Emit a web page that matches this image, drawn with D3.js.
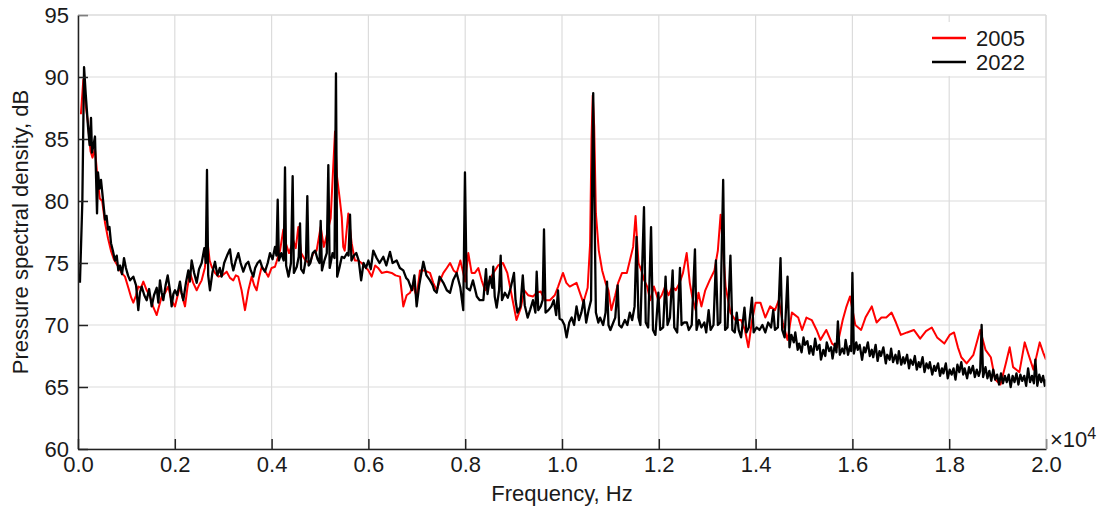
<!DOCTYPE html>
<html>
<head>
<meta charset="utf-8">
<script src="https://cdn.jsdelivr.net/npm/d3@7"></script>
<style>
  body { margin: 0; background: #fff; }
  text { font-family: Arial, "Liberation Sans", Helvetica, sans-serif; fill: #1a1a1a; }
</style>
</head>
<body>
<div id="chart"></div>
<script>
// --- Datos (frecuencia en Hz, PSD en dB) ---
const xTicks = [0, 2000, 4000, 6000, 8000, 10000, 12000, 14000, 16000, 18000, 20000];
const yTicks = [60, 65, 70, 75, 80, 85, 90, 95];
const seriesNames = ["2005", "2022"];
const seriesColors = ["#ff0000", "#000000"];

const psd2005 = [
  [60,87.0],[110,89.8],[150,88.0],[200,86.5],[260,84.0],[300,83.5],[350,84.2],[400,82.0],[450,80.2],[500,80.0],
  [560,78.2],[620,77.0],[680,76.0],[740,75.3],[800,74.9],[833,74.7],[900,74.2],[971,73.9],[1040,73.0],[1100,72.2],
  [1143,71.8],[1200,72.4],[1246,73.1],[1300,73.0],[1350,73.5],[1420,72.8],[1488,72.3],[1550,71.5],[1626,70.8],[1680,71.6],
  [1729,72.3],[1800,72.6],[1866,73.1],[1930,72.0],[2004,71.5],[2060,72.4],[2107,73.1],[2160,72.2],[2211,71.5],[2260,73.0],
  [2314,74.2],[2380,73.4],[2452,72.8],[2500,73.2],[2555,73.6],[2620,74.6],[2679,76.6],[2720,75.2],[2762,74.7],[2830,74.2],
  [2900,73.9],[2980,74.0],[3072,74.3],[3140,73.8],[3209,73.6],[3260,74.0],[3312,73.9],[3380,72.8],[3450,71.2],[3520,72.8],
  [3588,73.9],[3640,73.2],[3691,72.8],[3740,73.8],[3795,74.7],[3860,74.4],[3932,73.9],[4000,74.6],[4070,74.7],[4174,76.0],
  [4243,77.7],[4300,76.5],[4360,75.8],[4449,76.8],[4500,76.2],[4552,77.9],[4610,75.8],[4700,75.2],[4793,75.0],[4860,75.8],
  [4930,76.0],[5014,77.9],[5080,76.3],[5150,77.4],[5220,78.6],[5270,82.5],[5310,85.6],[5350,82.0],[5413,80.0],[5450,78.7],
  [5480,76.3],[5510,76.0],[5585,79.0],[5654,76.6],[5720,75.2],[5790,75.2],[5860,75.0],[5930,74.7],[6000,74.4],[6067,73.9],
  [6140,74.8],[6200,74.6],[6274,74.2],[6380,74.3],[6481,74.2],[6560,74.0],[6653,73.9],[6721,71.5],[6790,72.4],[6859,72.6],
  [6920,73.2],[6997,72.3],[7066,74.4],[7150,74.4],[7273,74.2],[7340,73.4],[7411,72.8],[7480,73.6],[7549,74.2],[7620,74.6],
  [7687,75.0],[7760,74.4],[7824,74.2],[7900,75.2],[7960,74.2],[8000,73.5],[8064,75.8],[8133,74.2],[8200,74.2],[8271,74.6],
  [8340,73.6],[8409,72.8],[8500,73.6],[8581,74.2],[8680,74.8],[8780,75.0],[8870,74.2],[8950,72.6],[9060,70.4],[9150,71.4],
  [9220,72.8],[9300,72.4],[9400,72.3],[9480,72.6],[9560,72.7],[9650,72.0],[9750,72.0],[9850,72.4],[9920,73.1],[10020,74.2],
  [10090,73.4],[10160,73.1],[10300,73.4],[10440,71.8],[10530,73.0],[10580,76.5],[10610,85.0],[10635,88.5],[10665,86.0],[10700,79.0],
  [10760,76.0],[10830,74.4],[10900,73.4],[10960,72.8],[11020,71.2],[11100,72.4],[11160,73.4],[11240,74.2],[11340,74.2],[11470,76.3],
  [11520,78.8],[11580,75.0],[11640,74.4],[11700,73.6],[11760,73.1],[11820,72.0],[11900,73.1],[11990,72.0],[12060,72.4],[12130,73.1],
  [12200,72.4],[12280,73.1],[12350,72.8],[12430,73.4],[12500,74.2],[12576,75.8],[12640,73.4],[12690,72.3],[12760,71.2],[12820,72.6],
  [12880,71.5],[12960,72.8],[13050,73.6],[13150,74.4],[13220,76.0],[13277,78.9],[13330,76.0],[13380,73.1],[13480,71.0],[13580,70.4],
  [13700,70.4],[13780,69.6],[13850,68.2],[13920,70.2],[14000,71.8],[14100,71.8],[14200,70.6],[14300,71.5],[14400,71.2],[14480,72.0],
  [14560,70.2],[14660,68.8],[14750,71.0],[14880,70.6],[14960,69.6],[15050,70.6],[15160,70.4],[15260,69.6],[15340,68.8],[15460,69.6],
  [15580,68.5],[15680,68.2],[15800,70.4],[15870,71.4],[15950,72.3],[16060,70.0],[16180,69.6],[16270,70.6],[16400,71.5],[16500,70.2],
  [16600,70.6],[16700,70.6],[16810,71.0],[16900,70.2],[17000,69.2],[17130,69.4],[17270,69.6],[17400,68.9],[17520,69.5],[17640,69.8],
  [17750,69.0],[17900,68.5],[18010,69.2],[18100,69.4],[18180,68.2],[18250,67.4],[18360,66.9],[18500,67.6],[18640,69.6],[18750,68.0],
  [18860,67.4],[18950,65.6],[19060,65.2],[19170,66.9],[19250,68.2],[19320,66.6],[19450,66.2],[19560,68.6],[19640,67.6],[19740,66.4],
  [19870,68.6],[19940,67.8],[20000,67.2]
];

const psd2022 = [
  [40,73.4],[90,80.0],[125,90.8],[160,88.6],[207,86.0],[240,84.5],[269,86.7],[289,83.9],[320,84.5],[351,85.2],
  [393,79.0],[413,82.3],[445,81.0],[475,81.7],[517,80.1],[558,78.5],[590,78.8],[620,77.7],[650,77.9],[682,76.6],
  [720,76.0],[764,75.2],[800,75.6],[833,74.4],[870,74.8],[910,74.1],[950,75.4],[990,74.6],[1033,74.0],[1075,73.6],
  [1143,73.9],[1200,73.2],[1246,71.2],[1280,72.6],[1316,73.1],[1370,72.4],[1419,72.0],[1470,72.9],[1522,71.5],[1570,72.4],
  [1626,73.0],[1660,71.8],[1694,73.6],[1730,72.6],[1763,72.0],[1810,73.2],[1853,74.0],[1900,72.8],[1935,71.5],[1970,72.5],
  [2004,72.8],[2050,72.4],[2107,73.5],[2140,72.6],[2176,72.0],[2230,73.4],[2279,74.4],[2310,73.5],[2348,75.2],[2400,74.2],
  [2452,73.4],[2500,74.5],[2555,75.0],[2610,76.2],[2640,75.0],[2665,82.5],[2690,74.0],[2727,72.8],[2780,74.3],[2830,75.1],
  [2880,74.0],[2930,74.6],[2968,73.9],[3020,75.0],[3080,75.6],[3140,76.1],[3175,75.0],[3209,74.4],[3260,75.2],[3312,75.8],
  [3360,75.0],[3415,74.3],[3470,74.9],[3519,75.1],[3570,74.4],[3622,73.9],[3660,74.6],[3710,75.0],[3760,75.2],[3810,74.6],
  [3863,74.3],[3920,75.0],[3967,75.8],[4020,75.3],[4070,76.3],[4100,75.6],[4126,80.1],[4150,75.2],[4200,75.8],[4250,75.2],
  [4277,82.7],[4300,74.8],[4350,73.9],[4400,75.0],[4435,82.0],[4460,74.2],[4520,74.7],[4560,75.5],[4587,78.2],[4610,74.5],
  [4660,74.2],[4710,75.4],[4738,80.4],[4765,74.8],[4800,75.0],[4850,75.8],[4900,76.0],[4950,75.3],[4990,75.0],[5014,78.4],
  [5040,74.4],[5090,75.2],[5140,75.8],[5172,82.9],[5200,74.6],[5260,75.8],[5300,75.4],[5330,90.3],[5355,73.9],[5400,74.6],
  [5450,75.5],[5500,75.4],[5560,75.8],[5590,75.6],[5620,78.9],[5650,75.2],[5700,75.6],[5750,75.8],[5800,75.2],[5850,73.6],
  [5900,75.0],[5950,74.6],[6000,75.2],[6050,74.5],[6100,76.0],[6170,75.4],[6230,75.0],[6308,75.5],[6370,74.8],[6446,75.9],
  [6500,75.0],[6584,75.2],[6650,74.6],[6721,74.4],[6780,73.8],[6824,73.6],[6900,72.8],[6950,74.0],[6997,71.5],[7050,73.2],
  [7135,75.1],[7200,74.0],[7273,73.6],[7330,73.2],[7360,72.8],[7411,72.6],[7470,73.9],[7549,73.4],[7620,72.8],[7687,72.6],
  [7750,73.6],[7824,74.2],[7900,73.0],[7960,71.2],[7995,82.3],[8030,73.0],[8099,72.8],[8160,73.6],[8240,72.3],[8300,72.0],
  [8375,72.0],[8430,74.5],[8460,72.5],[8513,73.9],[8560,73.0],[8580,74.7],[8610,72.3],[8650,71.4],[8700,72.8],[8733,75.6],
  [8760,72.0],[8820,72.6],[8880,72.2],[8940,73.0],[9008,74.2],[9040,72.0],[9080,71.0],[9140,71.5],[9190,74.0],[9230,71.6],
  [9290,70.6],[9340,71.2],[9400,72.0],[9450,71.0],[9477,74.3],[9510,71.2],[9560,71.5],[9600,72.0],[9628,77.7],[9660,71.0],
  [9720,71.2],[9780,71.5],[9830,72.0],[9880,70.8],[9917,72.8],[9950,70.5],[10000,70.4],[10050,70.0],[10095,69.0],[10150,70.2],
  [10200,70.6],[10250,70.0],[10300,71.5],[10350,70.4],[10400,71.0],[10450,72.0],[10500,70.2],[10550,71.2],[10600,72.0],[10625,82.0],
  [10645,88.7],[10670,80.0],[10700,71.0],[10750,70.2],[10786,70.6],[10850,70.0],[10900,71.0],[10930,73.5],[10960,70.0],[11000,69.6],
  [11060,70.2],[11100,70.6],[11150,73.2],[11180,70.0],[11230,69.8],[11300,70.4],[11350,70.0],[11400,71.0],[11450,70.4],[11500,71.5],
  [11540,77.1],[11580,70.6],[11620,70.0],[11694,79.5],[11730,70.2],[11780,69.8],[11840,77.9],[11880,69.6],[11930,69.2],[11990,72.6],
  [12030,69.6],[12090,69.8],[12140,73.9],[12180,70.0],[12230,70.6],[12286,74.4],[12320,69.8],[12380,69.4],[12437,74.6],[12470,70.0],
  [12520,70.2],[12580,70.2],[12620,69.6],[12680,70.0],[12747,76.1],[12780,69.6],[12830,70.4],[12880,69.8],[12940,70.2],[12980,69.4],
  [13030,71.2],[13070,69.6],[13130,70.0],[13180,75.2],[13220,70.0],[13270,70.2],[13330,81.7],[13370,69.6],[13420,69.8],[13480,75.6],
  [13520,69.6],[13570,69.4],[13610,71.0],[13650,69.6],[13700,69.0],[13770,71.4],[13810,69.4],[13860,69.8],[13925,72.2],[13960,69.4],
  [14020,69.8],[14080,69.6],[14140,70.0],[14200,69.4],[14260,70.2],[14320,69.8],[14365,71.2],[14400,69.6],[14460,69.8],[14515,75.4],
  [14550,69.6],[14600,69.0],[14660,73.9],[14700,68.2],[14740,69.2],[14790,68.6],[14820,69.4],[14870,68.0],[14900,68.5],[14950,67.8],
  [14990,69.0],[15020,68.4],[15070,68.7],[15110,67.7],[15140,68.3],[15190,67.6],[15230,68.9],[15270,68.0],[15320,68.4],[15350,67.2],
  [15400,68.0],[15440,67.5],[15470,68.6],[15520,67.9],[15560,68.2],[15590,67.3],[15640,68.5],[15670,67.8],[15700,70.3],[15740,67.6],
  [15790,68.1],[15830,67.7],[15860,68.8],[15910,67.6],[15950,68.3],[15975,67.9],[16000,74.2],[16030,67.7],[16080,68.6],[16110,68.0],
  [16150,68.4],[16200,67.2],[16240,68.2],[16270,67.8],[16320,68.6],[16360,67.5],[16400,68.0],[16430,67.4],[16480,68.4],[16520,67.1],
  [16560,67.9],[16590,67.5],[16640,68.2],[16690,66.9],[16720,67.6],[16770,67.2],[16800,68.1],[16840,67.0],[16890,67.6],[16930,66.9],
  [16960,67.9],[17010,66.8],[17050,67.4],[17080,66.9],[17130,67.6],[17170,66.5],[17200,67.2],[17250,66.8],[17290,67.5],[17330,66.4],
  [17370,67.0],[17400,66.6],[17450,67.4],[17490,66.2],[17530,66.9],[17570,66.5],[17600,67.0],[17650,66.0],[17690,66.7],[17720,66.3],
  [17770,66.9],[17810,65.9],[17850,66.5],[17880,66.1],[17930,66.9],[17970,65.7],[18010,66.4],[18050,66.0],[18090,66.5],[18130,65.6],
  [18170,66.8],[18210,66.2],[18250,67.0],[18290,66.0],[18320,66.5],[18370,65.7],[18410,66.6],[18440,66.1],[18490,66.7],[18530,65.8],
  [18570,66.4],[18610,65.9],[18640,66.3],[18670,70.0],[18700,65.8],[18750,66.6],[18790,65.7],[18830,66.3],[18870,65.5],[18910,66.4],
  [18950,65.6],[18990,66.0],[19030,65.2],[19070,66.1],[19110,65.3],[19150,65.9],[19190,65.4],[19230,66.0],[19270,65.0],[19310,65.9],
  [19350,65.4],[19390,66.1],[19430,65.2],[19470,66.0],[19510,65.5],[19550,65.9],[19590,65.1],[19630,66.5],[19670,65.4],[19710,65.9],
  [19750,65.3],[19780,67.2],[19820,65.1],[19860,66.0],[19900,65.4],[19940,65.9],[19975,65.1],[20000,65.6]
];

const seriesData = [psd2005, psd2022];

// --- Configuración ---
const width = 1105, height = 510;
const margin = { top: 15, right: 59, bottom: 61, left: 78 };
const plotW = width - margin.left - margin.right;
const plotH = height - margin.top - margin.bottom;
const gridColor = "#dcdcdc";

const svg = d3.select("#chart").append("svg")
  .attr("width", width)
  .attr("height", height);

const x = d3.scaleLinear().domain([0, 20000]).range([margin.left, margin.left + plotW]);
const y = d3.scaleLinear().domain([60, 95]).range([margin.top + plotH, margin.top]);

// Rejilla
svg.append("g").selectAll("line")
  .data(xTicks)
  .enter().append("line")
  .attr("x1", d => x(d)).attr("x2", d => x(d))
  .attr("y1", y(60)).attr("y2", y(95))
  .attr("stroke", gridColor).attr("stroke-width", 1.2);

svg.append("g").selectAll("line")
  .data(yTicks)
  .enter().append("line")
  .attr("x1", x(0)).attr("x2", x(20000))
  .attr("y1", d => y(d)).attr("y2", d => y(d))
  .attr("stroke", gridColor).attr("stroke-width", 1.2);

// Clip
svg.append("clipPath").attr("id", "plot-clip")
  .append("rect")
  .attr("x", margin.left).attr("y", margin.top)
  .attr("width", plotW).attr("height", plotH);

// Líneas
const line = d3.line()
  .x(d => x(d[0]))
  .y(d => y(d[1]));

svg.append("g").attr("clip-path", "url(#plot-clip)")
  .selectAll("path")
  .data(seriesData)
  .enter().append("path")
  .attr("d", line)
  .attr("fill", "none")
  .attr("stroke", (d, i) => seriesColors[i])
  .attr("stroke-width", (d, i) => i === 1 ? 2.3 : 2)
  .attr("stroke-linejoin", "round");

// Ejes
const fmtX = d => (d / 10000).toFixed(1);
const xAxis = d3.axisBottom(x).tickValues(xTicks).tickFormat(fmtX).tickSizeInner(-10).tickSizeOuter(0).tickPadding(7);
const yAxis = d3.axisLeft(y).tickValues(yTicks).tickFormat(d3.format("d")).tickSizeInner(-10).tickSizeOuter(0).tickPadding(9);

const gx = svg.append("g")
  .attr("transform", `translate(0, ${margin.top + plotH})`)
  .call(xAxis);
const gy = svg.append("g")
  .attr("transform", `translate(${margin.left}, 0)`)
  .call(yAxis);

[gx, gy].forEach(g => {
  g.select(".domain").attr("stroke", "#222").attr("stroke-width", 1.5);
  g.selectAll(".tick line").attr("stroke", "#222").attr("stroke-width", 1.5);
  g.selectAll(".tick text")
    .style("font-size", "22px")
    .style("font-family", "Arial, 'Liberation Sans', sans-serif")
    .attr("fill", "#1a1a1a");
});

// Borde superior/derecho
svg.append("line")
  .attr("x1", x(0)).attr("x2", x(20000)).attr("y1", y(95)).attr("y2", y(95))
  .attr("stroke", gridColor).attr("stroke-width", 1.2);
svg.append("line")
  .attr("x1", x(20000)).attr("x2", x(20000)).attr("y1", y(95)).attr("y2", y(60))
  .attr("stroke", gridColor).attr("stroke-width", 1.2);

// Multiplicador ×10^4
const mult = svg.append("text")
  .attr("x", x(20000) + 4)
  .attr("y", y(60) - 2)
  .style("font-size", "22px");
mult.append("tspan").text("×10");
mult.append("tspan").attr("dy", -8).style("font-size", "16px").text("4");

// Títulos de ejes
svg.append("text")
  .attr("x", x(10000))
  .attr("y", 501)
  .attr("text-anchor", "middle")
  .style("font-size", "22px")
  .text("Frequency, Hz");

svg.append("text")
  .attr("transform", `translate(28, ${y(77.5)}) rotate(-90)`)
  .attr("text-anchor", "middle")
  .style("font-size", "22px")
  .text("Pressure spectral density, dB");

// Leyenda
const legend = svg.append("g").attr("transform", "translate(920, 22)");
legend.append("rect")
  .attr("x", 0).attr("y", 0).attr("width", 122).attr("height", 54)
  .attr("fill", "#fff");
const items = legend.selectAll("g.item")
  .data(seriesNames)
  .enter().append("g")
  .attr("class", "item")
  .attr("transform", (d, i) => `translate(0, ${16 + i * 24})`);
items.append("line")
  .attr("x1", 12).attr("x2", 46)
  .attr("stroke", (d, i) => seriesColors[i])
  .attr("stroke-width", 2.3);
items.append("text")
  .attr("x", 56).attr("y", 8)
  .style("font-size", "22px")
  .text(d => d);
</script>
</body>
</html>
